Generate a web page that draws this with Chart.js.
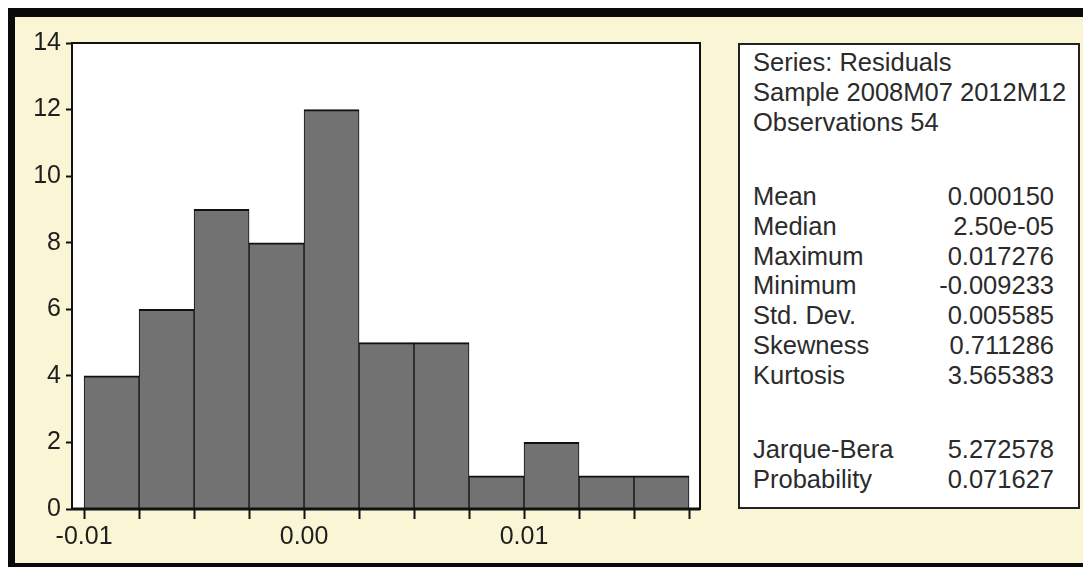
<!DOCTYPE html>
<html>
<head>
<meta charset="utf-8">
<script src="https://cdn.jsdelivr.net/npm/chart.js@4.4.1/dist/chart.umd.min.js"></script>
<style>
  html, body { margin: 0; padding: 0; background: #ffffff; }
  #page { position: relative; width: 1083px; height: 571px; overflow: hidden; }
  #frame {
    position: absolute; left: 8px; top: 8px; width: 1100px; height: 559px;
    background: #faf5d4;
    border-left: 7px solid #0a0a0a; border-top: 9px solid #0a0a0a; border-bottom: 4px solid #0a0a0a;
    box-sizing: border-box;
  }
  #chart { position: absolute; left: 0; top: 0; }
  #stats {
    position: absolute; left: 738px; top: 43px; width: 342px; height: 466px;
    box-sizing: border-box; border: 2px solid #222; background: #ffffff;
    padding: 3px 24px 0 13px;
    font-family: "Liberation Sans", Arial, sans-serif; font-size: 25.5px; color: #2b2b2b;
  }
  .row { position: relative; height: 29.8px; line-height: 29.8px; white-space: nowrap; }
  .gap { height: 44.7px; }
  .row .val { position: absolute; right: 0; top: 0; }
</style>
</head>
<body>
<div id="page">
  <div id="frame"></div>
  <canvas id="chart" width="1083" height="571"></canvas>
  <div id="stats"></div>
</div>
<script>
// histogram bins (start of each bin) and counts
const binStarts = [-0.01, -0.0075, -0.005, -0.0025, 0, 0.0025, 0.005, 0.0075, 0.01, 0.0125, 0.015];
const binWidth = 0.0025;
const counts = [4, 6, 9, 8, 12, 5, 5, 1, 2, 1, 1];

// x axis tick marks at every bin edge, labels only on some
const xTickValues = [-0.01, -0.0075, -0.005, -0.0025, 0, 0.0025, 0.005, 0.0075, 0.01, 0.0125, 0.015, 0.0175];
const xLabelValues = [-0.01, 0, 0.01];
const xLabelTexts = ["-0.01", "0.00", "0.01"];

// stats box
const headerLines = ["Series: Residuals", "Sample 2008M07 2012M12", "Observations 54"];
const statNames = ["Mean", "Median", "Maximum", "Minimum", "Std. Dev.", "Skewness", "Kurtosis"];
const statValues = ["0.000150", "2.50e-05", "0.017276", "-0.009233", "0.005585", "0.711286", "3.565383"];
const testNames = ["Jarque-Bera", "Probability"];
const testValues = ["5.272578", "0.071627"];

const stats = document.getElementById("stats");
function addRow(label, value) {
	const row = document.createElement("div");
	row.className = "row";
	row.textContent = label;
	if (value !== undefined) {
		const v = document.createElement("span");
		v.className = "val";
		v.textContent = value;
		row.appendChild(v);
	}
	stats.appendChild(row);
}
function addGap() {
	const g = document.createElement("div");
	g.className = "gap";
	stats.appendChild(g);
}
headerLines.forEach((l) => addRow(l));
addGap();
statNames.forEach((n, i) => addRow(n, statValues[i]));
addGap();
testNames.forEach((n, i) => addRow(n, testValues[i]));

const histData = binStarts.map((s, i) => ({ x: s + binWidth / 2, y: counts[i] }));

const frameBox = {
	id: "frameBox",
	beforeDraw(chart) {
		const a = chart.chartArea;
		const c = chart.ctx;
		c.save();
		c.fillStyle = "#ffffff";
		c.fillRect(a.left, a.top, a.right - a.left, a.bottom - a.top);
		c.restore();
	},
	afterDraw(chart) {
		const a = chart.chartArea;
		const c = chart.ctx;
		c.save();
		c.strokeStyle = "#111";
		c.lineWidth = 2;
		c.strokeRect(a.left, a.top, a.right - a.left, a.bottom - a.top);
		c.beginPath();
		c.lineWidth = 3;
		c.moveTo(a.left, a.bottom);
		c.lineTo(a.right, a.bottom);
		c.stroke();
		c.restore();
	},
};

const font = { family: "'Liberation Sans', Arial, sans-serif", size: 25 };

new Chart(document.getElementById("chart"), {
	type: "bar",
	data: {
		datasets: [
			{
				data: histData,
				backgroundColor: "#727272",
				borderColor: "#111",
				borderWidth: { top: 2, left: 1, right: 1, bottom: 0 },
				borderSkipped: false,
				barPercentage: 1,
				categoryPercentage: 1,
			},
		],
	},
	options: {
		responsive: false,
		animation: false,
		layout: { padding: { left: 0, top: 43, right: 383, bottom: 0 } },
		plugins: { legend: { display: false }, tooltip: { enabled: false } },
		scales: {
			x: {
				type: "linear",
				min: -0.01055,
				max: 0.018,
				offset: false,
				grid: { offset: false, drawOnChartArea: false, tickLength: 10, color: "#111", tickWidth: 2 },
				border: { display: false },
				afterBuildTicks: (scale) => {
					scale.ticks = xTickValues.map((v) => ({ value: v }));
				},
				afterFit: (scale) => {
					scale.height = 571 - 509;
				},
				ticks: {
					autoSkip: false,
					maxRotation: 0,
					padding: 3,
					color: "#1e1e1e",
					font: font,
					callback: (v) => {
						const k = xLabelValues.findIndex((l) => Math.abs(l - v) < 1e-9);
						return k >= 0 ? xLabelTexts[k] : "";
					},
				},
			},
			y: {
				min: 0,
				max: 14,
				grid: { drawOnChartArea: false, tickLength: 6, color: "#111", tickWidth: 2 },
				border: { display: false },
				afterFit: (scale) => {
					scale.width = 72;
				},
				ticks: { stepSize: 2, padding: 5, color: "#1e1e1e", font: font },
			},
		},
	},
	plugins: [frameBox],
});
</script>
</body>
</html>
